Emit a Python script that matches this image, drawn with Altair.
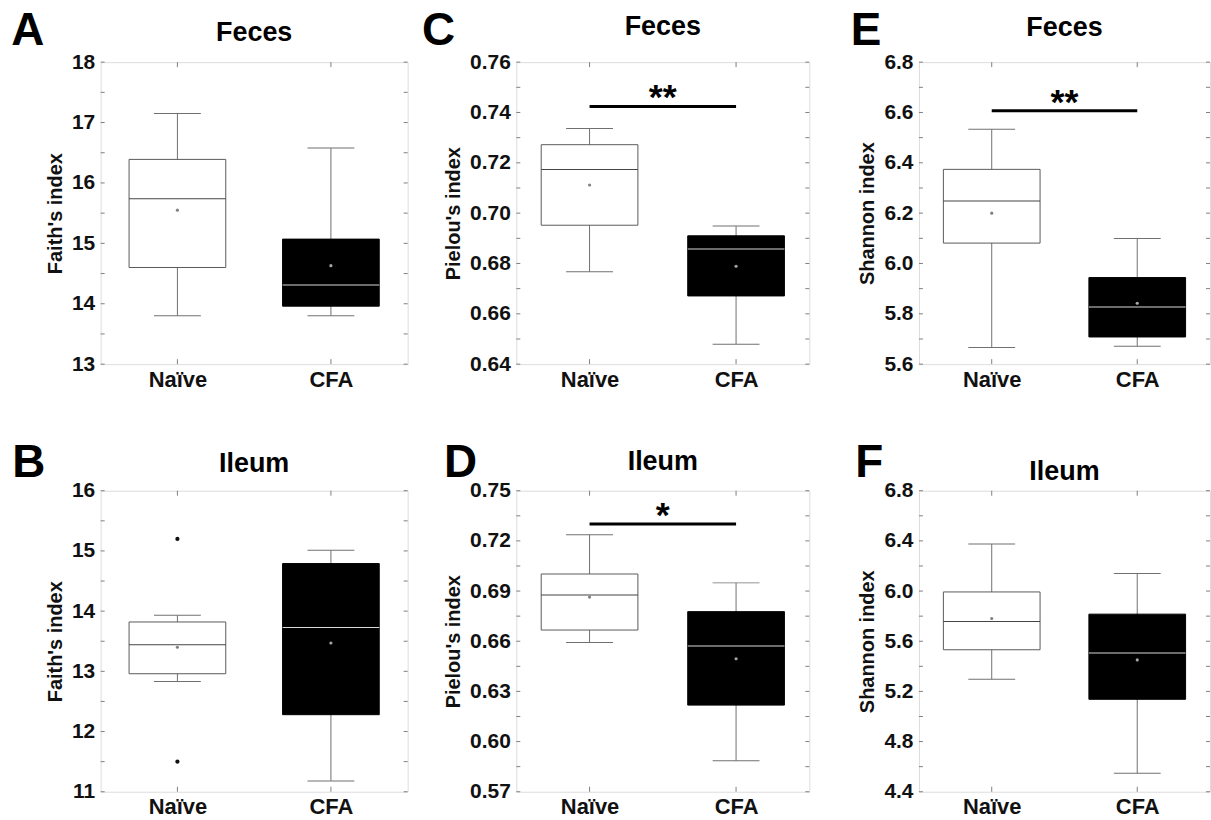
import altair as alt
import pandas as pd

FONT = "Liberation Sans"
GREY = "#808080"
GROUPS = ["Naïve", "CFA"]

# ---------------- data ----------------
# order in every list: [Naïve, CFA]
A_low, A_q1, A_med, A_mean, A_q3, A_high = [13.80, 13.80], [14.60, 13.96], [15.74, 14.31], [15.55, 14.63], [16.39, 15.07], [17.15, 16.58]
B_low, B_q1, B_med, B_mean, B_q3, B_high = [12.83, 11.18], [12.96, 12.28], [13.44, 13.73], [13.40, 13.47], [13.82, 14.79], [13.93, 15.01]
B_outliers = [15.20, 11.50]  # Naïve outliers
C_low, C_q1, C_med, C_mean, C_q3, C_high = [0.6767, 0.6479], [0.6952, 0.6671], [0.7173, 0.6858], [0.7112, 0.6789], [0.7272, 0.6910], [0.7336, 0.6949]
D_low, D_q1, D_med, D_mean, D_q3, D_high = [0.6593, 0.5885], [0.6667, 0.6218], [0.6876, 0.6571], [0.6864, 0.6495], [0.7002, 0.6777], [0.7237, 0.6949]
E_low, E_q1, E_med, E_mean, E_q3, E_high = [5.666, 5.671], [6.081, 5.708], [6.248, 5.827], [6.200, 5.842], [6.374, 5.944], [6.533, 6.099]
F_low, F_q1, F_med, F_mean, F_q3, F_high = [5.296, 4.547], [5.532, 5.137], [5.757, 5.507], [5.781, 5.451], [5.993, 5.816], [6.376, 6.140]

C_sig, D_sig, E_sig = 0.7424, 0.7301, 6.607

A_ticks = [13, 14, 15, 16, 17, 18]
B_ticks = [11, 12, 13, 14, 15, 16]
C_ticks = [0.64, 0.66, 0.68, 0.70, 0.72, 0.74, 0.76]
D_ticks = [0.57, 0.60, 0.63, 0.66, 0.69, 0.72, 0.75]
E_ticks = [5.6, 5.8, 6.0, 6.2, 6.4, 6.6, 6.8]
F_ticks = [4.4, 4.8, 5.2, 5.6, 6.0, 6.4, 6.8]


def panel(letter, title, ylabel, low, q1, med, mean, q3, high, ticks, fmt, W, H,
          letter_x, letter_y, title_y, outliers=None, sig=None, stars=None):
    yscale = alt.Scale(domain=[ticks[0], ticks[-1]], nice=False, zero=False)
    yaxis = alt.Axis(title=ylabel, values=ticks, format=fmt, grid=False, domain=False,
                     ticks=False, tickSize=0, labelPadding=6, titlePadding=6,
                     labelFont=FONT, labelFontSize=21, labelFontWeight="bold", labelColor="#111",
                     titleFont=FONT, titleFontSize=20, titleFontWeight="bold", titleColor="#111",
                     labelFlush=False)
    xscale = alt.Scale(domain=GROUPS, type="point", padding=0.5)
    xaxis = alt.Axis(title=None, grid=False, domain=False, ticks=False, tickSize=0,
                     labelAngle=0, labelPadding=5, labelFont=FONT, labelFontSize=22,
                     labelFontWeight="bold", labelColor="#111")

    def X(f):
        return alt.X(f, type="nominal", scale=xscale, axis=xaxis, sort=GROUPS)

    def Y(f):
        return alt.Y(f, type="quantitative", scale=yscale, axis=yaxis)

    df = pd.DataFrame({"group": GROUPS, "low": low, "q1": q1, "med": med,
                       "mean": mean, "q3": q3, "high": high})
    base = alt.Chart(df)
    is_naive = "datum.group == 'Naïve'"

    whisk = base.mark_rule(color="#707070", strokeWidth=1).encode(x=X("group"), y=Y("low"), y2="high")
    cap_lo = base.mark_tick(size=47, thickness=1, color="#707070", opacity=1).encode(x=X("group"), y=Y("low"))
    cap_hi = base.mark_tick(size=47, thickness=1, color="#707070", opacity=1).encode(x=X("group"), y=Y("high"))
    box = base.mark_bar(size=97, strokeWidth=1).encode(
        x=X("group"), y=Y("q1"), y2="q3",
        fill=alt.condition(is_naive, alt.value("white"), alt.value("black")),
        stroke=alt.condition(is_naive, alt.value("#5a5a5a"), alt.value("black")))
    median = base.mark_tick(size=97, thickness=1, opacity=1).encode(
        x=X("group"), y=Y("med"),
        color=alt.condition(is_naive, alt.value("#444444"), alt.value("#d8d8d8")))
    mean_pt = base.mark_point(filled=True, size=10, opacity=1).encode(
        x=X("group"), y=Y("mean"),
        color=alt.condition(is_naive, alt.value("#808080"), alt.value("#a8a8a8")))

    layers = [whisk, cap_lo, cap_hi, box, median, mean_pt]

    if outliers:
        odf = pd.DataFrame({"group": [GROUPS[0]] * len(outliers), "v": outliers})
        layers.append(alt.Chart(odf).mark_point(filled=True, size=18, color="#111", opacity=1)
                      .encode(x=X("group"), y=Y("v")))

    if sig is not None:
        sdf = pd.DataFrame({"a": [GROUPS[0]], "b": [GROUPS[1]], "y": [sig], "s": [stars]})
        layers.append(alt.Chart(sdf).mark_rule(color="black", strokeWidth=3)
                      .encode(x=X("a"), x2="b", y=Y("y")))
        layers.append(alt.Chart(sdf).mark_text(font=FONT, fontSize=36, fontWeight="bold",
                                               color="black", baseline="alphabetic", dy=3)
                      .encode(x=alt.value(W / 2), y=Y("y"), text="s:N"))

    # inward frame ticks (major + half steps)
    allt = list(ticks) + [(ticks[i] + ticks[i + 1]) / 2 for i in range(len(ticks) - 1)]
    tdf = pd.DataFrame({"v": allt})
    layers.append(alt.Chart(tdf).mark_rule(color=GREY, strokeWidth=1)
                  .encode(y=Y("v"), x=alt.value(0), x2=alt.value(4)))
    layers.append(alt.Chart(tdf).mark_rule(color=GREY, strokeWidth=1)
                  .encode(y=Y("v"), x=alt.value(W - 4), x2=alt.value(W)))
    gdf = pd.DataFrame({"group": GROUPS})
    layers.append(alt.Chart(gdf).mark_rule(color=GREY, strokeWidth=1)
                  .encode(x=X("group"), y=alt.value(0), y2=alt.value(5)))
    layers.append(alt.Chart(gdf).mark_rule(color=GREY, strokeWidth=1)
                  .encode(x=X("group"), y=alt.value(H - 5), y2=alt.value(H)))

    # panel letter and title
    ldf = pd.DataFrame({"t": [letter]})
    layers.append(alt.Chart(ldf).mark_text(font=FONT, fontSize=46, fontWeight="bold", color="black",
                                           baseline="middle", align="center")
                  .encode(x=alt.value(letter_x), y=alt.value(letter_y), text="t:N"))
    ttdf = pd.DataFrame({"t": [title]})
    layers.append(alt.Chart(ttdf).mark_text(font=FONT, fontSize=27, fontWeight="bold", color="black",
                                            baseline="middle", align="center")
                  .encode(x=alt.value(W / 2), y=alt.value(title_y), text="t:N"))

    return alt.layer(*layers).properties(width=W, height=H)


pA = panel("A", "Feces", "Faith's index", A_low, A_q1, A_med, A_mean, A_q3, A_high, A_ticks, "d",
           308, 303, -73, -31, -29)
pC = panel("C", "Feces", "Pielou's index", C_low, C_q1, C_med, C_mean, C_q3, C_high, C_ticks, ".2f",
           294, 303, -78, -31, -35, sig=C_sig, stars="**")
pE = panel("E", "Feces", "Shannon index", E_low, E_q1, E_med, E_mean, E_q3, E_high, E_ticks, ".1f",
           292, 303, -53, -31, -34, sig=E_sig, stars="**")
pB = panel("B", "Ileum", "Faith's index", B_low, B_q1, B_med, B_mean, B_q3, B_high, B_ticks, "d",
           308, 302, -72, -28, -27, outliers=B_outliers)
pD = panel("D", "Ileum", "Pielou's index", D_low, D_q1, D_med, D_mean, D_q3, D_high, D_ticks, ".2f",
           294, 302, -56, -28, -29, sig=D_sig, stars="*")
pF = panel("F", "Ileum", "Shannon index", F_low, F_q1, F_med, F_mean, F_q3, F_high, F_ticks, ".1f",
           292, 302, -50, -28, -19)

col1 = alt.vconcat(pA, pB, spacing=48)
col2 = alt.vconcat(pC, pD, spacing=48)
col3 = alt.vconcat(pE, pF, spacing=48)

chart = alt.hconcat(alt.hconcat(col1, col2, spacing=12), col3, spacing=40).properties(
    padding={"left": 10, "top": 6, "right": 0, "bottom": 0},
    background="white",
).configure_view(stroke=GREY, strokeWidth=1).configure(font=FONT)

chart.save("out.html", embed_options={"renderer": "svg", "actions": False})
